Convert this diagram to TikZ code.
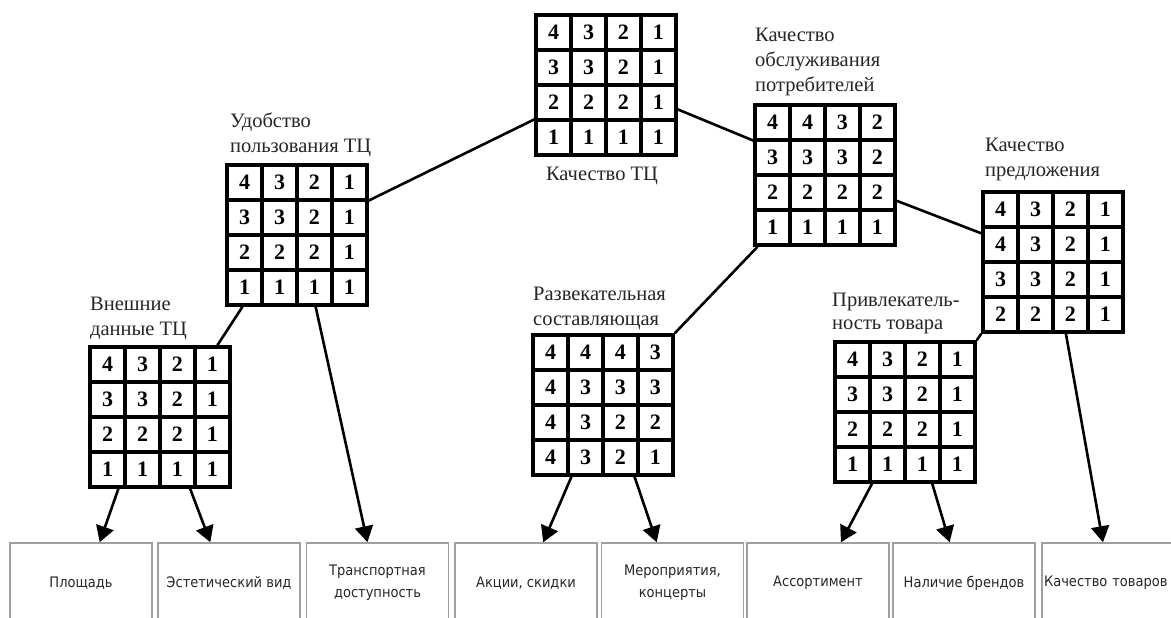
\documentclass[tikz,border=0pt]{standalone}
\usepackage{fontspec}
\setmainfont{Liberation Serif}
\newfontfamily\labfont{Liberation Serif}
\newfontfamily\boxfont{DejaVu Sans Condensed}
\usetikzlibrary{matrix,arrows.meta,calc}
\tikzset{
 cellgrid/.style={matrix of nodes, inner sep=0pt, column sep=-3.5pt, row sep=-3.5pt,
   nodes={draw, line width=3.5pt, minimum size=34.9pt, inner sep=0pt, anchor=center,
          font=\labfont\fontsize{22}{22}\selectfont\bfseries}},
 lbl/.style={font=\labfont\fontsize{20.5}{25}\selectfont, align=left, inner sep=0pt, anchor=north west, text=black!85},
 bbox/.style={draw=gray!75, line width=1.5pt, minimum width=142pt, minimum height=80pt,
   inner sep=2pt, align=center, font=\boxfont\fontsize{14.5}{22}\selectfont, text=black!85},
 link/.style={line width=2.6pt},
 arr/.style={line width=2.6pt, -{Triangle[length=16pt,width=18pt]}},
}
\begin{document}
\begin{tikzpicture}[x=1pt,y=-1pt]
\clip (0,0) rectangle (1171,618);
\fill[white] (0,0) rectangle (1171,618);

% matrices
\matrix (q1) [cellgrid] at (606,85) {4 & 3 & 2 & 1\\ 3 & 3 & 2 & 1\\ 2 & 2 & 2 & 1\\ 1 & 1 & 1 & 1\\};
\matrix (q2) [cellgrid] at (297,235) {4 & 3 & 2 & 1\\ 3 & 3 & 2 & 1\\ 2 & 2 & 2 & 1\\ 1 & 1 & 1 & 1\\};
\matrix (q3) [cellgrid] at (160,417) {4 & 3 & 2 & 1\\ 3 & 3 & 2 & 1\\ 2 & 2 & 2 & 1\\ 1 & 1 & 1 & 1\\};
\matrix (q4) [cellgrid] at (825,175) {4 & 4 & 3 & 2\\ 3 & 3 & 3 & 2\\ 2 & 2 & 2 & 2\\ 1 & 1 & 1 & 1\\};
\matrix (q5) [cellgrid] at (1053,262) {4 & 3 & 2 & 1\\ 4 & 3 & 2 & 1\\ 3 & 3 & 2 & 1\\ 2 & 2 & 2 & 1\\};
\matrix (q6) [cellgrid] at (603,405) {4 & 4 & 4 & 3\\ 4 & 3 & 3 & 3\\ 4 & 3 & 2 & 2\\ 4 & 3 & 2 & 1\\};
\matrix (q7) [cellgrid] at (905,412) {4 & 3 & 2 & 1\\ 3 & 3 & 2 & 1\\ 2 & 2 & 2 & 1\\ 1 & 1 & 1 & 1\\};

% labels
\node[lbl, anchor=north] (l1) at (602,167) {Качество ТЦ};
\node[lbl] (l2) at (230,113) {Удобство\\пользования ТЦ};
\node[lbl] (l3) at (90,297) {Внешние\\данные ТЦ};
\node[lbl] (l4) at (755,28) {Качество\\обслуживания\\потребителей};
\node[lbl] (l5) at (985,138) {Качество\\предложения};
\node[lbl] (l6) at (533,287) {Развекательная\\составляющая};
\node[lbl, font=\labfont\fontsize{20.5}{23}\selectfont] (l7) at (832,293) {Привлекатель-\\ность товара};

% bottom boxes
\node[bbox] (b1) at (81,583) {Площадь};
\node[bbox] (b2) at (229,583) {Эстетический вид};
\node[bbox] (b3) at (377.5,583) {Транспортная\\доступность};
\node[bbox] (b4) at (526,583) {Акции, скидки};
\node[bbox] (b5) at (672.5,583) {Мероприятия,\\концерты};
\node[bbox] (b6) at (818,583) {Ассортимент};
\node[bbox] (b7) at (964,583) {Наличие брендов};
\node[bbox, align=left, text width=138pt] (b8) at (1113,583) {Качество товаров};

% links between matrices
\draw[link] ($(q1.north west)!0.74!(q1.south west)$) -- ($(q2.north east)!0.26!(q2.south east)$);
\draw[link] ($(q1.north east)!0.67!(q1.south east)$) -- ($(q4.north west)!0.26!(q4.south west)$);
\draw[link] ($(q4.north east)!0.68!(q4.south east)$) -- ($(q5.north west)!0.30!(q5.south west)$);
\draw[link] ($(q4.south west)!0.03!(q4.south east)$) -- (q6.north east);
\draw[link] (q5.south west) -- (q7.north east);
\draw[link] ($(q2.south west)!0.12!(q2.south east)$) -- ($(q3.north west)!0.90!(q3.north east)$);

% arrows to bottom boxes
\draw[arr] ($(q3.south west)!0.21!(q3.south east)$) -- ($(b1.north west)!0.63!(b1.north east)$);
\draw[arr] ($(q3.south west)!0.71!(q3.south east)$) -- ($(b2.north west)!0.37!(b2.north east)$);
\draw[arr] ($(q2.south west)!0.63!(q2.south east)$) -- ($(b3.north west)!0.43!(b3.north east)$);
\draw[arr] ($(q6.south west)!0.28!(q6.south east)$) -- ($(b4.north west)!0.62!(b4.north east)$);
\draw[arr] ($(q6.south west)!0.72!(q6.south east)$) -- ($(b5.north west)!0.39!(b5.north east)$);
\draw[arr] ($(q7.south west)!0.27!(q7.south east)$) -- ($(b6.north west)!0.66!(b6.north east)$);
\draw[arr] ($(q7.south west)!0.69!(q7.south east)$) -- ($(b7.north west)!0.40!(b7.north east)$);
\draw[arr] ($(q5.south west)!0.59!(q5.south east)$) -- ($(b8.north west)!0.43!(b8.north east)$);
\end{tikzpicture}
\end{document}
